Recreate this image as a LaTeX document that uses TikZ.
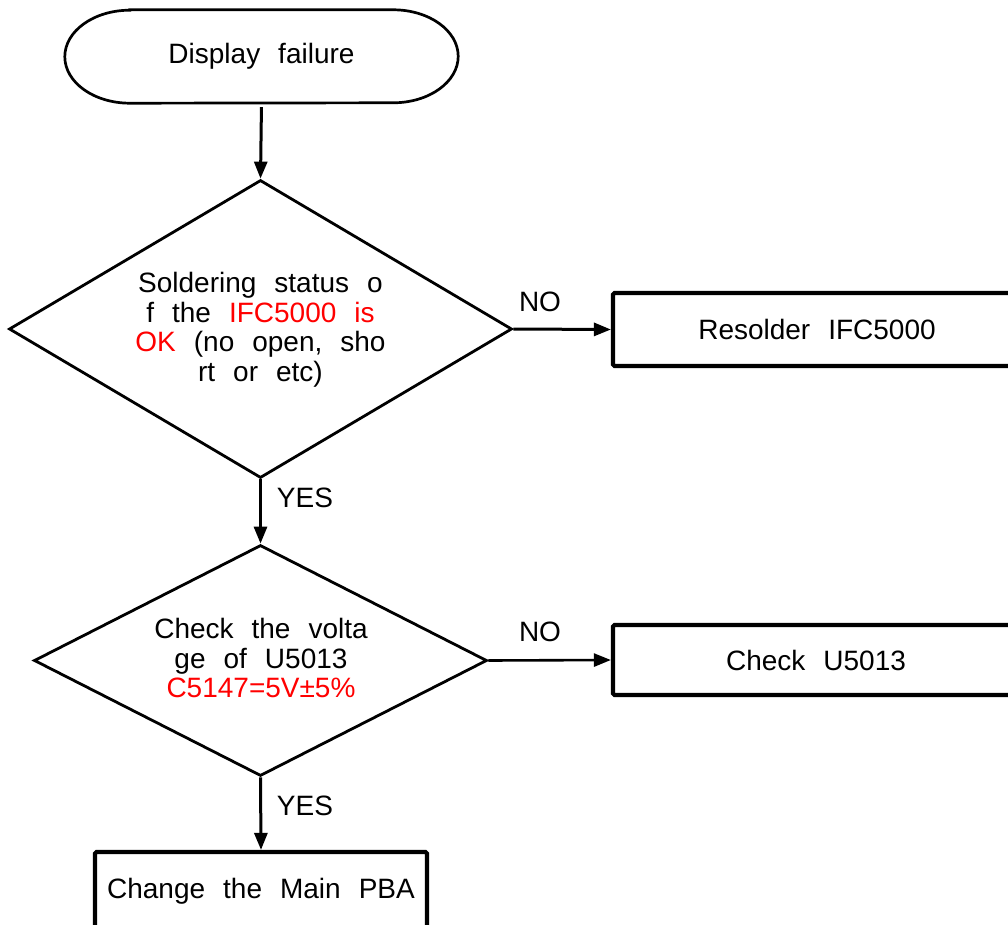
\documentclass[tikz,border=0pt]{standalone}
\usepackage{fontspec}
\setmainfont{Liberation Sans}
\usetikzlibrary{shapes.geometric,arrows.meta}
\begin{document}
\begin{tikzpicture}[x=1pt,y=1pt,
  txt/.style={font={\fontsize{28}{29.5}\selectfont\spaceskip=18pt\relax}, inner sep=0pt, align=center},
  termbox/.style={txt, rectangle, minimum width=393pt, minimum height=93pt},
  dia/.style={diamond, draw, line width=2.8pt, inner sep=0pt},
  procbox/.style={txt, rectangle, draw, line width=4.2pt, rounded corners=1.5pt},
  arr/.style={-{Triangle[length=17pt,width=13pt]}, line width=3pt},
  lbl/.style={txt}
]
\useasboundingbox (0,0) rectangle (1008,-925);
\clip (0,0) rectangle (1008,-925);

% terminal
\node[termbox] (term) at (261.5,-56.5) {Display failure};
\draw[line width=2.7pt]
  ([xshift=65pt]term.north west) -- ([xshift=-65pt]term.north east)
  arc[start angle=90,end angle=-90,x radius=65,y radius=46.5]
  -- ([xshift=65pt]term.south west)
  arc[start angle=270,end angle=90,x radius=65,y radius=46.5] -- cycle;

% decision 1
\node[dia, minimum width=503pt, minimum height=298pt] (d1) at (260.5,-329) {};
\node[txt] (d1t) at (260.5,-330) {Soldering status o\\
  f the \textcolor{red}{IFC5000 is}\\
  \textcolor{red}{OK} (no open, sho\\
  rt or etc)};

% decision 2
\node[dia, minimum width=453pt, minimum height=231pt] (d2) at (260.5,-660.5) {};
\node[txt] (d2t) at (261,-658) {Check the volta\\
  ge of U5013\\
  \textcolor{red}{C5147=5V±5\%}};

% process boxes
\node[procbox, minimum width=408pt, minimum height=73pt] (b1) at (817,-329.5) {Resolder IFC5000};
\node[procbox, minimum width=406pt, minimum height=70pt] (b2) at (816,-660) {Check U5013};
\node[procbox, minimum width=332pt, minimum height=84pt, text height=20pt, text depth=12pt] (b3) at (261,-894) {Change the Main PBA};

% connectors
\draw[arr, shorten <=4pt] (term.south) -- (d1.north);
\draw[arr] (d1.east) -- (b1.west);
\draw[arr] (d1.south) -- (d2.north);
\draw[arr, line width=2.6pt] (d2.east) -- (b2.west);
\draw[arr] (d2.south) -- (b3.north);

% labels
\node[lbl] (no1) at (540,-302) {NO};
\node[lbl] (yes1) at (305,-498) {YES};
\node[lbl] (no2) at (540,-632) {NO};
\node[lbl] (yes2) at (305,-806) {YES};
\end{tikzpicture}
\end{document}
